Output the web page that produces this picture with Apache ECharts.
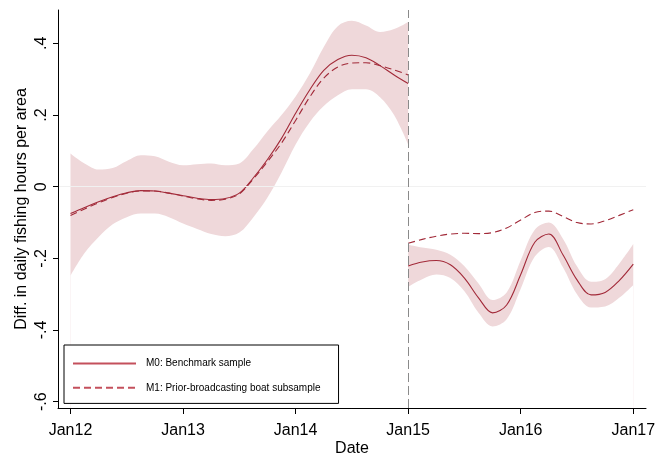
<!DOCTYPE html>
<html>
<head>
<meta charset="utf-8">
<script src="https://cdn.jsdelivr.net/npm/echarts@6/dist/echarts.min.js"></script>
<style>
html, body { margin: 0; padding: 0; background: #ffffff; }
#chart { width: 657px; height: 458px; }
</style>
</head>
<body>
<div id="chart"></div>
<script>
// Time is measured in years since January 2012.
const preYears  = [0, 0.125, 0.25, 0.375, 0.5, 0.625, 0.75, 0.875, 1, 1.125, 1.25, 1.375, 1.5,
                   1.625, 1.75, 1.875, 2, 2.125, 2.25, 2.375, 2.5, 2.625, 2.75, 2.875, 3];
const postYears = [3, 3.125, 3.25, 3.375, 3.5, 3.625, 3.75, 3.875, 4, 4.125, 4.25, 4.375, 4.5,
                   4.625, 4.75, 4.875, 5];

// M0: benchmark sample, before the broadcasting change
const m0Pre = [-0.075, -0.058, -0.042, -0.028, -0.017, -0.011, -0.012, -0.018, -0.025, -0.032, -0.036, -0.033, -0.018,
               0.025, 0.076, 0.135, 0.205, 0.270, 0.325, 0.355, 0.367, 0.360, 0.338, 0.312, 0.288];
const ciPreLow  = [-0.248, -0.185, -0.140, -0.105, -0.085, -0.075, -0.075, -0.085, -0.103, -0.118, -0.132, -0.138, -0.128,
                   -0.085, -0.030, 0.040, 0.118, 0.180, 0.225, 0.255, 0.272, 0.272, 0.250, 0.200, 0.118];
const ciPreHigh = [0.093, 0.065, 0.048, 0.052, 0.072, 0.088, 0.085, 0.070, 0.060, 0.063, 0.065, 0.060, 0.065,
                   0.105, 0.155, 0.200, 0.252, 0.315, 0.390, 0.448, 0.463, 0.450, 0.432, 0.440, 0.460];

// M1: prior-broadcasting boat subsample, before the change
const m1Pre = [-0.080, -0.062, -0.045, -0.030, -0.018, -0.012, -0.012, -0.018, -0.026, -0.034, -0.038, -0.035, -0.020,
               0.022, 0.070, 0.122, 0.185, 0.250, 0.303, 0.334, 0.345, 0.346, 0.338, 0.326, 0.312];

// After the change
const m0Post = [-0.221, -0.210, -0.206, -0.218, -0.255, -0.310, -0.352, -0.330, -0.245, -0.155, -0.132, -0.190, -0.260,
                -0.302, -0.295, -0.262, -0.216];
const ciPostLow  = [-0.279, -0.258, -0.245, -0.255, -0.292, -0.352, -0.390, -0.370, -0.285, -0.195, -0.168, -0.225, -0.300,
                    -0.337, -0.334, -0.310, -0.274];
const ciPostHigh = [-0.162, -0.170, -0.176, -0.190, -0.222, -0.270, -0.316, -0.295, -0.205, -0.120, -0.100, -0.145, -0.222,
                    -0.265, -0.258, -0.215, -0.160];
const m1Post = [-0.158, -0.147, -0.138, -0.132, -0.130, -0.131, -0.128, -0.115, -0.093, -0.072, -0.068, -0.083, -0.100,
                -0.104, -0.095, -0.080, -0.064];

const xTickValues = [0, 1, 2, 3, 4, 5];
const xTickLabels = ['Jan12', 'Jan13', 'Jan14', 'Jan15', 'Jan16', 'Jan17'];
const yTickValues = [-0.6, -0.4, -0.2, 0, 0.2, 0.4];
const yTickLabels = ['-.6', '-.4', '-.2', '0', '.2', '.4'];
const breakYear = 3;

const seriesNames = ['M0: Benchmark sample', 'M1: Prior-broadcasting boat subsample'];

const LINE_RED = '#a22a39';
const BAND_PINK = '#efd8da';
const FONT = 'Liberation Sans, Arial, Helvetica, sans-serif';
const SMOOTH = 0.35;

function pairs(xs, ys) { return xs.map((x, i) => [x, ys[i]]); }
function labelFor(values, labels, v) {
  const i = values.findIndex(t => Math.abs(t - v) < 1e-9);
  return i >= 0 ? labels[i] : '';
}

// Confidence band: the upper bound is filled down to the axis floor in pink,
// then the area under the lower bound is painted back in white.
function bandSeries(xs, lo, hi, key) {
  const common = {
    type: 'line', symbol: 'none', smooth: SMOOTH, silent: true, z: 1,
    lineStyle: { width: 0, opacity: 0 }, legendHoverLink: false
  };
  return [
    Object.assign({}, common, {
      name: key + '-upper', data: pairs(xs, hi),
      areaStyle: { color: BAND_PINK, opacity: 1, origin: 'start' }
    }),
    Object.assign({}, common, {
      name: key + '-lower', data: pairs(xs, lo),
      areaStyle: { color: '#ffffff', opacity: 1, origin: 'start' }
    })
  ];
}

function lineSeries(name, xs, ys, dashed) {
  return {
    name: name, type: 'line', data: pairs(xs, ys), symbol: 'none', smooth: SMOOTH, z: 4,
    lineStyle: { color: LINE_RED, width: 1.1, type: dashed ? [7, 4] : 'solid' },
    itemStyle: { color: LINE_RED }
  };
}

const chart = echarts.init(document.getElementById('chart'), null, { renderer: 'canvas' });

chart.setOption({
  animation: false,
  backgroundColor: '#ffffff',
  textStyle: { fontFamily: FONT },
  grid: { left: 58, top: 10, right: 11, bottom: 50, containLabel: false, outerBoundsMode: 'none' },
  xAxis: {
    type: 'value', z: 10,
    min: -0.111, max: 5.113,
    name: 'Date', nameLocation: 'middle', nameGap: 33, nameMoveOverlap: false,
    nameTextStyle: { fontFamily: FONT, fontSize: 16, color: '#000' },
    axisLine: { show: true, onZero: false, lineStyle: { color: '#000', width: 1 } },
    axisTick: { show: true, length: 6, customValues: xTickValues, lineStyle: { color: '#000' } },
    axisLabel: {
      customValues: xTickValues, margin: 15, fontFamily: FONT, fontSize: 16, color: '#000',
      formatter: v => labelFor(xTickValues, xTickLabels, v)
    },
    splitLine: { show: false }
  },
  yAxis: {
    type: 'value', z: 10,
    min: -0.6176, max: 0.4932,
    name: 'Diff. in daily fishing hours per area', nameLocation: 'middle', nameGap: 28, nameMoveOverlap: false,
    nameTextStyle: { fontFamily: FONT, fontSize: 16, color: '#000' },
    axisLine: { show: true, onZero: false, lineStyle: { color: '#000', width: 1 } },
    axisTick: { show: true, length: 5, customValues: yTickValues, lineStyle: { color: '#000' } },
    axisLabel: {
      customValues: yTickValues, rotate: 90, margin: 8, fontFamily: FONT, fontSize: 16, color: '#000',
      formatter: v => labelFor(yTickValues, yTickLabels, v)
    },
    splitLine: { show: false }
  },
  legend: {
    data: seriesNames,
    orient: 'vertical',
    left: 64, top: 345, z: 20,
    itemWidth: 63, itemHeight: 14, itemGap: 13,
    padding: [13, 18, 10, 8],
    borderColor: '#000', borderWidth: 1,
    backgroundColor: '#ffffff',
    selectedMode: false,
    textStyle: { fontFamily: FONT, fontSize: 10, color: '#000', padding: [0, 0, 0, 5] },
    lineStyle: { color: '#c4505c' },
    itemStyle: { opacity: 0, color: 'transparent', borderWidth: 0 }
  },
  series: [
    ...bandSeries(preYears, ciPreLow, ciPreHigh, 'ciPre'),
    ...bandSeries(postYears, ciPostLow, ciPostHigh, 'ciPost'),
    {
      name: 'reference-lines', type: 'line', data: [], z: 2, silent: true,
      markLine: {
        silent: true, symbol: 'none', animation: false, label: { show: false },
        data: [
          { yAxis: 0, lineStyle: { color: '#f1f1f1', width: 1.2, type: 'solid' } },
          { xAxis: breakYear, lineStyle: { color: '#8a8a8a', width: 1, type: [9, 4] } }
        ]
      }
    },
    lineSeries(seriesNames[0], preYears, m0Pre, false),
    lineSeries(seriesNames[1], preYears, m1Pre, true),
    lineSeries(seriesNames[0], postYears, m0Post, false),
    lineSeries(seriesNames[1], postYears, m1Post, true)
  ]
});
</script>
</body>
</html>
